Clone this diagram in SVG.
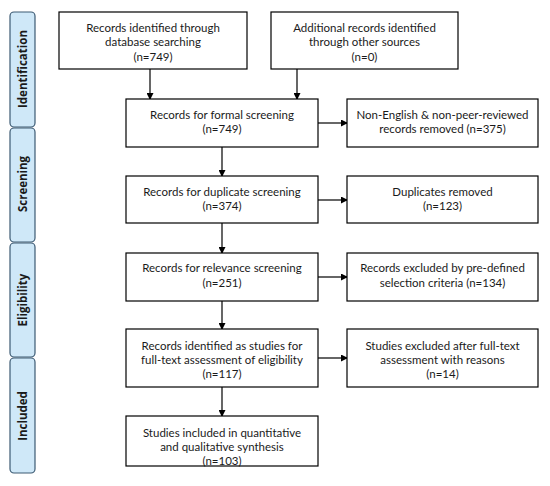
<svg xmlns="http://www.w3.org/2000/svg" width="550" height="486" viewBox="0 0 550 486">
<defs>
<marker id="ah" markerWidth="7" markerHeight="7" refX="6" refY="3.5" orient="auto" markerUnits="userSpaceOnUse">
<path d="M0,0 L7,3.5 L0,7 Z" fill="#000"/>
</marker>
<style>
.box{fill:#fff;stroke:#000;stroke-width:1.2}
.phase{fill:#cfe8f8;stroke:#3c5a73;stroke-width:1.2}
.t{font-family:Lato,"Liberation Sans",sans-serif;font-size:11.5px;fill:#1a1a1a;text-anchor:middle}
.pt{font-family:"Open Sans","Liberation Sans",sans-serif;font-size:11.5px;font-weight:bold;fill:#1a1a1a;text-anchor:middle}
.c{stroke:#000;stroke-width:1.2;fill:none;marker-end:url(#ah)}
</style>
</defs>
<rect width="550" height="486" fill="#fff"/>
<g id="phases">
<g id="ph-identification"><rect class="phase" x="10" y="12" width="25" height="115" rx="4"/><text class="pt" transform="translate(26.5,69) rotate(-90)">Identification</text></g>
<g id="ph-screening"><rect class="phase" x="10" y="128" width="25" height="114" rx="4"/><text class="pt" transform="translate(26.5,184) rotate(-90)">Screening</text></g>
<g id="ph-eligibility"><rect class="phase" x="10" y="243" width="25" height="114" rx="4"/><text class="pt" transform="translate(26.5,300) rotate(-90)">Eligibility</text></g>
<g id="ph-included"><rect class="phase" x="10" y="358" width="25" height="115" rx="4"/><text class="pt" transform="translate(26.5,416) rotate(-90)">Included</text></g>
</g>
<g id="connectors">
<line class="c" x1="150" y1="69" x2="150" y2="99"/>
<line class="c" x1="297" y1="69" x2="297" y2="99"/>
<line class="c" x1="222" y1="147" x2="222" y2="176"/>
<line class="c" x1="222" y1="223" x2="222" y2="253"/>
<line class="c" x1="222" y1="301" x2="222" y2="329"/>
<line class="c" x1="222" y1="387" x2="222" y2="416"/>
<line class="c" x1="318" y1="123" x2="347" y2="123"/>
<line class="c" x1="318" y1="200" x2="347" y2="200"/>
<line class="c" x1="318" y1="277" x2="347" y2="277"/>
<line class="c" x1="318" y1="358" x2="347" y2="358"/>
</g>
<g id="n-database"><rect class="box" x="59" y="12" width="188" height="57"/>
<text class="t" x="153" y="32">Records identified through</text><text class="t" x="153" y="46">database searching</text><text class="t" x="153" y="61">(n=749)</text></g>
<g id="n-other"><rect class="box" x="271" y="12" width="187" height="57"/>
<text class="t" x="364.5" y="32">Additional records identified</text><text class="t" x="364.5" y="46">through other sources</text><text class="t" x="364.5" y="61">(n=0)</text></g>
<g id="n-formal"><rect class="box" x="126" y="99" width="192" height="48"/>
<text class="t" x="222" y="119">Records for formal screening</text><text class="t" x="222" y="133">(n=749)</text></g>
<g id="n-nonenglish"><rect class="box" x="347" y="99" width="191" height="48"/>
<text class="t" x="442.5" y="119">Non-English &amp; non-peer-reviewed</text><text class="t" x="442.5" y="133">records removed (n=375)</text></g>
<g id="n-duplicate"><rect class="box" x="126" y="176" width="192" height="47"/>
<text class="t" x="222" y="196">Records for duplicate screening</text><text class="t" x="222" y="210">(n=374)</text></g>
<g id="n-dupremoved"><rect class="box" x="347" y="176" width="191" height="47"/>
<text class="t" x="442.5" y="196">Duplicates removed</text><text class="t" x="442.5" y="210">(n=123)</text></g>
<g id="n-relevance"><rect class="box" x="126" y="253" width="192" height="48"/>
<text class="t" x="222" y="272">Records for relevance screening</text><text class="t" x="222" y="287">(n=251)</text></g>
<g id="n-excluded"><rect class="box" x="347" y="253" width="191" height="48"/>
<text class="t" x="442.5" y="272">Records excluded by pre-defined</text><text class="t" x="442.5" y="287">selection criteria (n=134)</text></g>
<g id="n-fulltext"><rect class="box" x="126" y="329" width="192" height="58"/>
<text class="t" x="222" y="350">Records identified as studies for</text><text class="t" x="222" y="364">full-text assessment of eligibility</text><text class="t" x="222" y="378">(n=117)</text></g>
<g id="n-studiesexcluded"><rect class="box" x="347" y="329" width="191" height="58"/>
<text class="t" x="442.5" y="350">Studies excluded after full-text</text><text class="t" x="442.5" y="364">assessment with reasons</text><text class="t" x="442.5" y="378">(n=14)</text></g>
<g id="n-included"><rect class="box" x="126" y="416" width="192" height="50"/>
<text class="t" x="222" y="437">Studies included in quantitative</text><text class="t" x="222" y="451">and qualitative synthesis</text><text class="t" x="222" y="465">(n=103)</text></g>
</svg>
